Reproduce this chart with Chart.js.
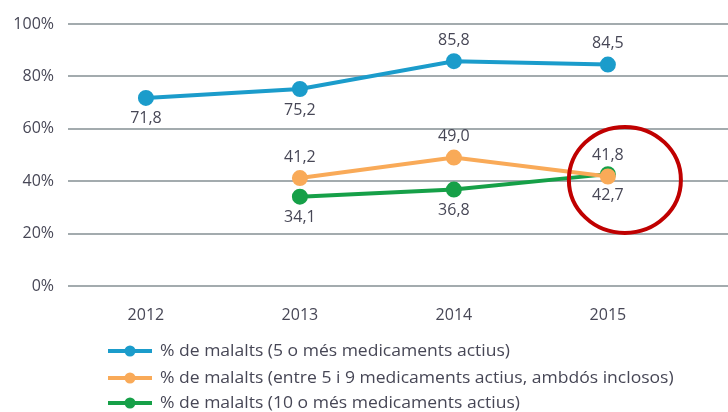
<!DOCTYPE html>
<html>
<head>
<meta charset="utf-8">
<script src="https://cdn.jsdelivr.net/npm/chart.js@4"></script>
<style>
  body { margin: 0; background: #fff; }
  canvas { display: block; }
</style>
</head>
<body>
<canvas id="lineChart" width="728" height="412"></canvas>
<script>

var years = [2012, 2013, 2014, 2015];
var yTicks = [0, 20, 40, 60, 80, 100];
var malalts5 = [71.8, 75.2, 85.8, 84.5];
var malalts5a9 = [null, 41.2, 49.0, 41.8];
var malalts10 = [null, 34.1, 36.8, 42.7];
var seriesNames = [
    "% de malalts (5 o més medicaments actius)",
    "% de malalts (entre 5 i 9 medicaments actius, ambdós inclosos)",
    "% de malalts (10 o més medicaments actius)"
];

var colors = ["#1b9ccb", "#f9aa58", "#16a048"];
var textColor = "#474756";
// where each value label sits: -1 above the point, 1 below
var labelSide = [
    [1, 1, -1, -1],
    [0, -1, -1, -1],
    [0, 1, 1, 1]
];

function points(values) {
    return years.map(function (y, i) { return {x: y, y: values[i]}; });
}

function makeSet(i, values) {
    return {
        label: seriesNames[i],
        data: points(values),
        borderColor: colors[i],
        backgroundColor: colors[i],
        borderWidth: 4,
        pointRadius: 6,
        pointHoverRadius: 6,
        tension: 0,
        clip: false
    };
}

// value labels with a comma decimal
var valueLabels = {
    id: 'valueLabels',
    afterDatasetsDraw: function (chart) {
        var ctx = chart.ctx;
        ctx.save();
        ctx.font = '16px "Open Sans"';
        ctx.fillStyle = textColor;
        ctx.textAlign = 'center';
        ctx.textBaseline = 'middle';
        chart.data.datasets.forEach(function (ds, d) {
            var meta = chart.getDatasetMeta(d);
            ds.data.forEach(function (p, i) {
                if (p.y === null) return;
                var el = meta.data[i];
                var txt = p.y.toFixed(1).replace('.', ',');
                ctx.fillText(txt, el.x, el.y + labelSide[d][i] * 21);
            });
        });
        ctx.restore();
    }
};

// legend: line with a dot, one row per series (text squeezed a bit, narrow face)
var lineLegend = {
    id: 'lineLegend',
    afterDraw: function (chart) {
        var ctx = chart.ctx;
        var rows = [351, 378, 403];
        ctx.save();
        ctx.font = '17px "Open Sans"';
        var squeeze = 350 / ctx.measureText(seriesNames[0]).width;
        chart.data.datasets.forEach(function (ds, d) {
            var y = rows[d];
            ctx.strokeStyle = colors[d];
            ctx.lineWidth = 4;
            ctx.beginPath();
            ctx.moveTo(108, y);
            ctx.lineTo(152, y);
            ctx.stroke();
            ctx.fillStyle = colors[d];
            ctx.beginPath();
            ctx.arc(130, y, 5.5, 0, Math.PI * 2);
            ctx.fill();
            ctx.save();
            ctx.translate(160, y);
            ctx.scale(squeeze, 1);
            ctx.fillStyle = textColor;
            ctx.textAlign = 'left';
            ctx.textBaseline = 'middle';
            ctx.fillText(ds.label, 0, 0);
            ctx.restore();
        });
        ctx.restore();
    }
};

// red ring around the 2015 values
var redRing = {
    id: 'redRing',
    afterDraw: function (chart) {
        var ctx = chart.ctx;
        var cx = chart.scales.x.getPixelForValue(2015) + 17;
        var cy = chart.scales.y.getPixelForValue(40.5);
        ctx.save();
        ctx.strokeStyle = "#c00000";
        ctx.lineWidth = 4;
        ctx.beginPath();
        ctx.ellipse(cx, cy, 56, 53, 0, 0, Math.PI * 2);
        ctx.stroke();
        ctx.restore();
    }
};

var ctxL = document.getElementById("lineChart").getContext('2d');
var myLineChart = new Chart(ctxL, {
    type: 'line',
    data: {
        datasets: [
            makeSet(0, malalts5),
            makeSet(1, malalts5a9),
            makeSet(2, malalts10)
        ]
    },
    options: {
        responsive: false,
        animation: false,
        layout: {autoPadding: false, padding: {top: 24, right: 0, left: 0, bottom: 0}},
        plugins: {
            legend: {display: false},
            tooltip: {enabled: false}
        },
        scales: {
            x: {
                type: 'linear',
                min: 2011.494,
                max: 2015.78,
                grid: {display: false},
                border: {display: false},
                afterBuildTicks: function (scale) {
                    scale.ticks = years.map(function (v) { return {value: v}; });
                },
                afterFit: function (scale) { scale.height = 126; },
                ticks: {
                    padding: 12,
                    color: textColor,
                    font: {family: 'Open Sans', size: 16},
                    callback: function (v) { return String(v); }
                }
            },
            y: {
                min: 0,
                max: 100,
                grid: {color: "#a3abae", lineWidth: 2, drawTicks: false},
                border: {display: false},
                afterBuildTicks: function (scale) {
                    scale.ticks = yTicks.map(function (v) { return {value: v}; });
                },
                afterFit: function (scale) { scale.width = 68; },
                ticks: {
                    padding: 14,
                    color: textColor,
                    font: {family: 'Open Sans', size: 16},
                    callback: function (v) { return v + '%'; }
                }
            }
        }
    },
    plugins: [valueLabels, lineLegend, redRing]
});

</script>
</body>
</html>
